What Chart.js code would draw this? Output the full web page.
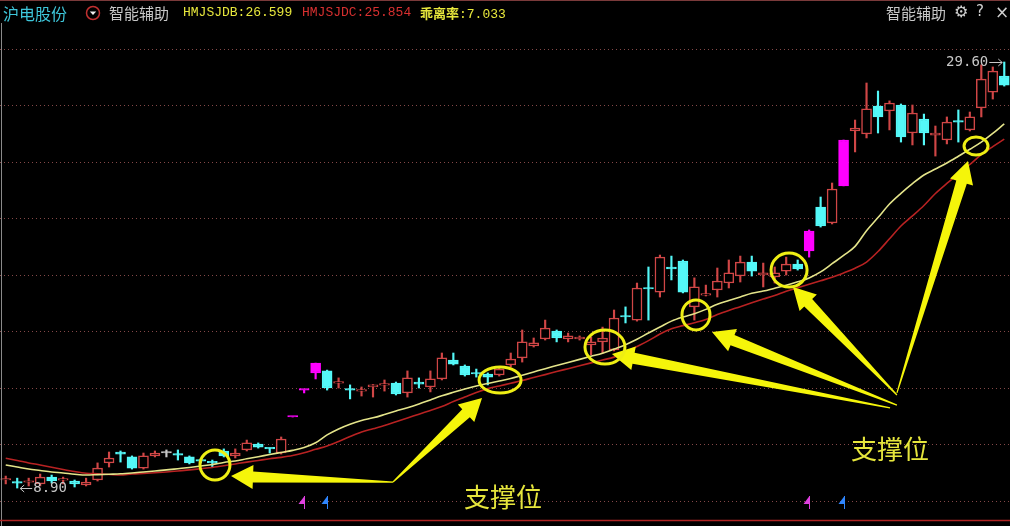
<!DOCTYPE html>
<html><head><meta charset="utf-8">
<script src="https://cdn.jsdelivr.net/npm/chart.js@4/dist/chart.umd.min.js"></script>
<style>
html,body{margin:0;padding:0;background:#000;}
#wrap{position:relative;width:1010px;height:526px;background:#000;overflow:hidden;}
canvas{position:absolute;left:0;top:0;}
.hd{position:absolute;top:2px;height:22px;line-height:22px;white-space:nowrap;}
.cjk{font-family:'Noto Sans CJK SC','Noto Sans',sans-serif;}
.mono{font-family:'Liberation Mono','DejaVu Sans Mono',monospace;font-size:13px;}
</style></head><body>
<div id="wrap">
<canvas id="c" width="1010" height="526"></canvas>
<div class="hd cjk" style="left:3px;color:#3ec6da;font-size:16px;">沪电股份</div>
<svg style="position:absolute;left:85px;top:5px" width="16" height="16"><circle cx="8" cy="8" r="6.5" fill="none" stroke="#c03030" stroke-width="1.5"/><path d="M4.8 6.6 L11.2 6.6 L8 10 Z" fill="#f0f0f0"/></svg>
<div class="hd cjk" style="left:109px;color:#c8c8c8;font-size:15px;">智能辅助</div>
<div class="hd mono" id="lbB" style="left:183px;color:#e8e83c;"></div>
<div class="hd mono" id="lbC" style="left:302px;color:#d83030;"></div>
<div class="hd" style="left:420px;color:#e8e83c;"><span class="cjk" style="font-size:13px;font-weight:bold">乖离率</span><span class="mono" id="lbBias"></span></div>
<div class="hd cjk" style="left:886px;color:#c8c8c8;font-size:15px;">智能辅助</div>
<div class="hd" style="left:954px;color:#d0d0d0;font:16px 'DejaVu Sans';">⚙</div>
<div class="hd" style="left:976px;color:#d0d0d0;font:15px 'DejaVu Sans';">?</div>
<div class="hd" style="left:995px;color:#d0d0d0;font:17px 'DejaVu Sans';">×</div>
</div>
<script>
// ---------- data ----------
const categories = Array.from({length: 88}, (_, i) => 'D' + (i + 1));
const opens  = [9.29,9.16,9.18,9.10,9.43,9.28,9.24,9.05,9.29,10.12,10.65,10.41,9.87,10.46,10.60,10.52,10.41,10.23,10.14,10.70,10.46,10.75,11.04,10.82,10.60,12.35,13.66,14.49,14.59,14.00,13.68,13.61,13.81,13.90,14.00,13.52,14.05,13.81,14.20,15.12,14.83,14.46,14.44,14.39,14.88,15.22,15.80,16.14,16.53,16.14,16.14,15.85,16.00,15.61,17.23,17.06,18.59,18.42,19.64,19.93,17.70,18.27,18.52,18.86,19.20,19.88,19.25,19.16,19.44,19.78,20.42,22.55,21.78,23.58,26.25,26.10,27.46,27.22,27.51,26.15,26.83,26.05,25.81,26.70,26.30,27.37,28.14,28.92];
const highs  = [9.48,9.38,9.38,9.58,9.53,9.43,9.29,9.38,10.12,10.65,10.70,10.46,10.60,10.70,10.75,10.75,10.46,10.31,10.26,10.80,10.80,11.23,11.09,10.84,11.38,12.35,13.66,14.97,14.63,14.25,13.91,13.81,13.93,14.15,14.05,14.59,14.25,14.59,15.46,15.46,14.88,14.68,14.49,14.73,15.46,16.58,16.19,17.06,16.58,16.43,16.29,16.24,16.72,17.55,17.70,18.86,19.64,20.22,20.17,19.98,19.11,18.76,19.59,19.98,20.17,20.17,19.83,19.64,20.12,19.98,21.44,23.04,23.72,25.81,26.78,28.58,28.19,27.71,27.56,27.51,27.07,26.49,26.93,27.27,27.17,29.46,29.36,29.60];
const lows   = [9.10,8.90,9.00,9.00,9.14,9.10,8.95,9.00,9.24,9.92,10.16,9.82,9.82,10.41,10.41,10.26,10.07,10.12,9.92,10.41,10.36,10.70,10.84,10.60,10.55,12.35,13.52,14.20,13.66,13.76,13.23,13.37,13.32,13.61,13.42,13.32,13.76,13.57,14.15,14.88,14.34,14.29,13.91,14.34,14.78,15.02,15.75,16.09,16.00,16.00,16.09,15.36,15.46,15.56,16.92,17.01,17.06,18.18,19.01,18.38,17.06,18.23,18.18,18.62,18.91,19.20,18.67,18.86,19.25,19.49,20.12,21.58,21.73,23.58,25.23,25.91,26.15,26.30,25.71,25.57,25.57,25.03,25.62,25.71,26.25,26.93,27.80,28.43];
const closes = [9.31,9.14,9.20,9.43,9.24,9.30,9.10,9.19,9.87,10.36,10.55,9.87,10.46,10.60,10.60,10.50,10.12,10.21,10.12,10.46,10.60,11.09,10.89,10.80,11.28,12.35,13.66,14.97,13.76,14.05,13.66,13.63,13.91,13.92,13.47,14.25,13.95,14.20,15.22,14.92,14.39,14.44,14.29,14.68,15.17,16.00,15.95,16.67,16.19,16.29,16.24,16.00,16.19,17.16,17.21,18.62,18.57,20.12,19.54,18.42,18.67,18.29,18.96,19.35,19.88,19.44,19.35,19.35,19.78,19.54,21.39,21.63,23.43,25.81,26.39,27.32,26.93,27.61,25.96,27.12,26.15,26.15,26.68,26.68,26.93,28.77,29.16,28.48];
const hmjsjdb = [10.02,9.92,9.82,9.75,9.68,9.63,9.57,9.53,9.55,9.57,9.59,9.63,9.68,9.73,9.78,9.84,9.90,9.97,10.04,10.14,10.21,10.32,10.42,10.53,10.63,10.73,10.87,11.10,11.48,11.77,12.00,12.18,12.31,12.47,12.64,12.80,12.98,13.18,13.38,13.55,13.71,13.86,13.98,14.10,14.22,14.38,14.54,14.70,14.85,15.00,15.15,15.30,15.45,15.65,15.86,16.13,16.43,16.72,17.01,17.21,17.37,17.58,17.83,18.01,18.18,18.36,18.47,18.61,18.75,18.92,19.11,19.40,19.80,20.20,20.64,21.40,22.04,22.70,23.22,23.69,24.11,24.40,24.69,25.02,25.36,25.71,26.13,26.599];
const hmjsjdc = [10.35,10.24,10.12,10.02,9.91,9.80,9.70,9.62,9.59,9.56,9.53,9.58,9.61,9.64,9.68,9.73,9.78,9.84,9.90,9.98,10.07,10.16,10.24,10.32,10.39,10.48,10.61,10.78,10.94,11.16,11.40,11.62,11.78,11.94,12.12,12.30,12.49,12.67,12.86,13.10,13.32,13.54,13.73,13.86,13.99,14.12,14.27,14.41,14.56,14.70,14.84,14.98,15.12,15.26,15.51,15.78,16.06,16.38,16.64,16.79,16.93,17.09,17.33,17.53,17.71,17.90,18.08,18.26,18.46,18.63,18.80,18.97,19.14,19.35,19.58,19.88,20.39,21.01,21.63,22.12,22.63,23.21,23.70,24.16,24.62,25.10,25.49,25.854];
const biasRate = 7.033;
const limitUpDays = [25, 26, 27, 70, 73];
const pinkSignals = [26, 70];
const blueSignals = [28, 73];
const priceMin = 7.346, priceMax = 31.398;
// support annotations (category index, price)
const supportIdx   = [18.23, 43.07, 52.21, 60.14, 68.25, 84.54];
const supportPrice = [10.02, 14.15, 15.75, 17.31, 19.49, 25.52];
const labelIdx   = [43.33, 77.05];
const labelPrice = [8.46, 10.80];
const arrowFromIdx   = [33.74, 33.74, 77.05, 77.65, 77.65, 77.65];
const arrowFromPrice = [9.19, 9.19, 12.79, 12.93, 13.42, 13.52];
const arrowToIdx     = [19.63, 41.50, 52.82, 61.54, 68.59, 83.84];
const arrowToPrice   = [9.48, 13.27, 15.41, 16.48, 18.67, 24.79];

// ---------- header ----------
document.getElementById('lbB').textContent = 'HMJSJDB:' + hmjsjdb[hmjsjdb.length-1].toFixed(3);
document.getElementById('lbC').textContent = 'HMJSJDC:' + hmjsjdc[hmjsjdc.length-1].toFixed(3);
document.getElementById('lbBias').textContent = ':' + biasRate.toFixed(3);

// ---------- styling ----------
const RED = '#d04646', CYAN = '#54f8f8', MAG = '#ff00ff', GREY = '#c8c8c8';
const kind = closes.map((c, i) => limitUpDays.includes(i) ? 'm' : (c > opens[i] ? 'u' : (c < opens[i] ? 'd' : 'n')));
const strokeCol = kind.map(k => k === 'm' ? MAG : k === 'u' ? RED : k === 'd' ? CYAN : GREY);
const fillCol = kind.map(k => k === 'm' ? MAG : k === 'u' ? '#000000' : k === 'd' ? CYAN : GREY);

const rx = [15, 21, 20, 14, 18, 12], ry = [15, 13, 17, 15, 17, 9];

function drawArrow(ctx, x0, y0, x1, y1) {
  const dx = x1 - x0, dy = y1 - y0, L = Math.hypot(dx, dy);
  const ux = dx / L, uy = dy / L, nx = -uy, ny = ux;
  const headLen = 22, headHalf = 12, shaftHalf = 5.5;
  const bx = x1 - ux * headLen, by = y1 - uy * headLen;
  ctx.beginPath();
  ctx.moveTo(x0 + nx * 0.6, y0 + ny * 0.6);
  ctx.lineTo(bx + nx * shaftHalf, by + ny * shaftHalf);
  ctx.lineTo(bx + nx * headHalf, by + ny * headHalf);
  ctx.lineTo(x1, y1);
  ctx.lineTo(bx - nx * headHalf, by - ny * headHalf);
  ctx.lineTo(bx - nx * shaftHalf, by - ny * shaftHalf);
  ctx.lineTo(x0 - nx * 0.6, y0 - ny * 0.6);
  ctx.closePath();
  ctx.fill();
}

const deco = {
  id: 'deco',
  beforeDraw(chart) {
    const ctx = chart.ctx;
    ctx.save(); ctx.fillStyle = '#000'; ctx.fillRect(0, 0, chart.width, chart.height); ctx.restore();
  },
  afterDraw(chart) {
    const ctx = chart.ctx, xs = chart.scales.x, ys = chart.scales.y, ca = chart.chartArea;
    ctx.save();
    // frame
    ctx.strokeStyle = '#7a3a3a'; ctx.lineWidth = 1;
    ctx.beginPath(); ctx.moveTo(0, 0.5); ctx.lineTo(chart.width, 0.5); ctx.stroke();
    ctx.strokeStyle = '#8a8a8a';
    ctx.beginPath(); ctx.moveTo(1.5, ca.top - 2); ctx.lineTo(1.5, chart.height); ctx.stroke();
    ctx.strokeStyle = '#b02424'; ctx.lineWidth = 1.5;
    ctx.beginPath(); ctx.moveTo(0, ca.bottom + 0.5); ctx.lineTo(chart.width, ca.bottom + 0.5); ctx.stroke();

    // high / low markers
    ctx.font = '14px "DejaVu Sans Mono"'; ctx.fillStyle = '#c8c8c8'; ctx.strokeStyle = '#c8c8c8'; ctx.lineWidth = 1;
    ctx.textBaseline = 'middle';
    let hi = 0, lo = 0;
    highs.forEach((v, i) => { if (v > highs[hi]) hi = i; });
    lows.forEach((v, i) => { if (v < lows[lo]) lo = i; });
    const hx = xs.getPixelForValue(hi), hy = ys.getPixelForValue(highs[hi]);
    ctx.textAlign = 'right'; ctx.fillText(highs[hi].toFixed(2), hx - 16, hy);
    ctx.beginPath(); ctx.moveTo(hx - 15, hy + 0.5); ctx.lineTo(hx - 2, hy + 0.5);
    ctx.moveTo(hx - 6, hy - 3); ctx.lineTo(hx - 2, hy + 0.5); ctx.lineTo(hx - 6, hy + 4); ctx.stroke();
    const lx = xs.getPixelForValue(lo), ly = ys.getPixelForValue(lows[lo]);
    ctx.textAlign = 'left'; ctx.fillText(lows[lo].toFixed(2), lx + 16, ly);
    ctx.beginPath(); ctx.moveTo(lx + 3, ly + 0.5); ctx.lineTo(lx + 15, ly + 0.5);
    ctx.moveTo(lx + 7, ly - 3); ctx.lineTo(lx + 3, ly + 0.5); ctx.lineTo(lx + 7, ly + 4); ctx.stroke();

    // signal flags
    const fy = ca.bottom - 24;
    const flag = (i, col) => {
      const px = Math.round(xs.getPixelForValue(i)) + 0.5;
      ctx.strokeStyle = col; ctx.fillStyle = col; ctx.lineWidth = 1;
      ctx.beginPath(); ctx.moveTo(px, fy); ctx.lineTo(px, fy + 13); ctx.stroke();
      ctx.beginPath(); ctx.moveTo(px, fy); ctx.lineTo(px, fy + 8); ctx.lineTo(px - 6, fy + 8); ctx.closePath(); ctx.fill();
    };
    pinkSignals.forEach(i => flag(i, '#e040e0'));
    blueSignals.forEach(i => flag(i, '#2f86ff'));

    // support annotations
    ctx.fillStyle = '#f5f50a';
    arrowFromIdx.forEach((_, k) => {
      drawArrow(ctx, xs.getPixelForValue(arrowFromIdx[k]), ys.getPixelForValue(arrowFromPrice[k]),
                     xs.getPixelForValue(arrowToIdx[k]), ys.getPixelForValue(arrowToPrice[k]));
    });
    ctx.strokeStyle = '#eeee14'; ctx.lineWidth = 3;
    supportIdx.forEach((v, k) => {
      ctx.beginPath();
      ctx.ellipse(xs.getPixelForValue(v), ys.getPixelForValue(supportPrice[k]), rx[k], ry[k], 0, 0, Math.PI * 2);
      ctx.stroke();
    });
    ctx.fillStyle = '#e6e63c'; ctx.font = '26px "Noto Sans CJK SC"';
    ctx.textAlign = 'center'; ctx.textBaseline = 'middle';
    labelIdx.forEach((v, k) => ctx.fillText('支撑位', xs.getPixelForValue(v), ys.getPixelForValue(labelPrice[k])));
    ctx.restore();
  }
};

new Chart(document.getElementById('c'), {
  type: 'bar',
  data: {
    labels: categories,
    datasets: [
      { type: 'line', label: 'HMJSJDB', data: hmjsjdb, borderColor: '#e4e48a', borderWidth: 1.6,
        pointRadius: 0, tension: 0.4, cubicInterpolationMode: 'monotone', order: 0, yAxisID: 'y' },
      { type: 'line', label: 'HMJSJDC', data: hmjsjdc, borderColor: '#b82222', borderWidth: 1.6,
        pointRadius: 0, tension: 0.4, cubicInterpolationMode: 'monotone', order: 0, yAxisID: 'y' },
      { label: 'body', data: opens.map((o, i) => [o, closes[i]]), backgroundColor: fillCol, borderColor: strokeCol,
        borderWidth: 1.5, borderSkipped: false, barThickness: 10, minBarLength: 1.5, grouped: false, order: 1, yAxisID: 'y' },
      { label: 'wick', data: lows.map((l, i) => [l, highs[i]]), backgroundColor: strokeCol, borderWidth: 0,
        barThickness: 1.5, grouped: false, order: 2, yAxisID: 'y' }
    ]
  },
  options: {
    responsive: false, animation: false, devicePixelRatio: 1,
    layout: { padding: { top: 25, bottom: 6, left: 0, right: 0 } },
    plugins: { legend: { display: false }, tooltip: { enabled: false } },
    scales: {
      x: { type: 'category', display: false, offset: true, grid: { display: false } },
      y: { type: 'linear', display: false, min: priceMin, max: priceMax },
      g: { type: 'linear', position: 'left', min: -0.336, max: 8.425,
           ticks: { display: false, stepSize: 1 },
           grid: { color: '#844848', lineWidth: 1, drawTicks: false },
           border: { display: false, dash: [1, 3] },
           afterBuildTicks: s => { s.ticks = s.ticks.filter(t => Number.isInteger(t.value)); },
           afterFit: s => { s.width = 0; } }
    }
  },
  plugins: [deco]
});
</script>
</body></html>
